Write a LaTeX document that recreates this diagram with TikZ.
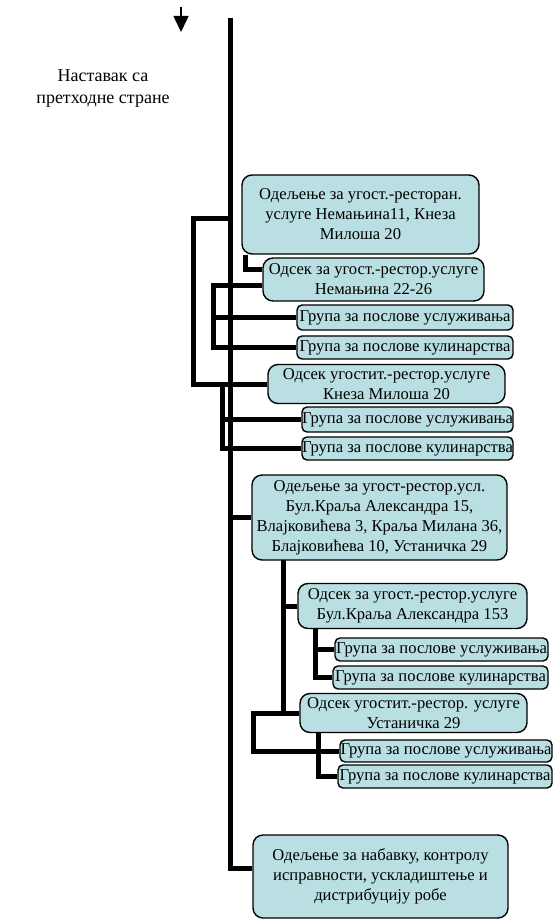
\documentclass[tikz,border=0pt]{standalone}
\usepackage{fontspec}
\setmainfont{Liberation Serif}
\usetikzlibrary{arrows.meta}
\definecolor{boxfill}{RGB}{185,223,227}
\tikzset{
  orgbox/.style={draw=black, line width=1.4pt, fill=boxfill, rounded corners=10pt,
    inner sep=0pt, align=center, font=\fontsize{16.6}{20}\selectfont},
  grpbox/.style={orgbox, rounded corners=5pt},
  conn/.style={line width=5pt, black, line join=miter},
}
\begin{document}
\begin{tikzpicture}[x=1pt,y=-1pt]
\useasboundingbox (0,0) rectangle (553,920);
% top arrow
\coordinate (arA) at (181,7);
\coordinate (arB) at (181,32);
\draw[line width=1.5pt, -{Triangle[width=15pt,length=16pt]}] (arA) -- (arB);
\node[align=center, font=\fontsize{18}{22}\selectfont] (cont) at (103,89) {Наставак са\\претходне стране};

% boxes
\node[orgbox, minimum width=237pt, minimum height=79pt] (box1) at (360.5,214.5)
  {Одељење за угост.-ресторан.\\услуге Немањина11, Кнеза\\Милоша 20};
\node[orgbox, minimum width=221pt, minimum height=43pt] (od1) at (373.5,279.5)
  {Одсек за угост.-рестор.услуге\\Немањина 22-26};
\node[grpbox, minimum width=216pt, minimum height=25pt] (g1) at (405,317.5)
  {Група за послове услуживања};
\node[grpbox, minimum width=216pt, minimum height=23pt] (g2) at (405,347.5)
  {Група за послове кулинарства};
\node[orgbox, minimum width=237pt, minimum height=39pt] (odkm) at (386.5,384)
  {Одсек угостит.-рестор.услуге\\Кнеза Милоша 20};
\node[grpbox, minimum width=211pt, minimum height=25pt] (g3) at (407.5,419.5)
  {Група за послове услуживања};
\node[grpbox, minimum width=211pt, minimum height=23pt] (g4) at (407.5,448.5)
  {Група за послове кулинарства};
\node[orgbox, minimum width=255pt, minimum height=85pt] (box2) at (379.5,517.5)
  {Одељење за угост-рестор.усл.\\Бул.Краља Александра 15,\\Влајковићева 3, Краља Милана 36,\\Блајковићева 10, Устаничка 29};
\node[orgbox, minimum width=229pt, minimum height=45pt] (od3) at (412.5,606)
  {Одсек за угост.-рестор.услуге\\Бул.Краља Александра 153};
\node[grpbox, minimum width=213pt, minimum height=23pt] (g5) at (441.5,649.5)
  {Група за послове услуживања};
\node[grpbox, minimum width=215pt, minimum height=23pt] (g6) at (440.5,677.5)
  {Група за послове кулинарства};
\node[orgbox, minimum width=227pt, minimum height=39pt] (od4) at (413.5,713)
  {Одсек угостит.-рестор. услуге\\Устаничка 29};
\node[grpbox, minimum width=212pt, minimum height=22pt] (g7) at (446,751)
  {Група за послове услуживања};
\node[grpbox, minimum width=214pt, minimum height=23pt] (g8) at (445,776.5)
  {Група за послове кулинарства};
\node[orgbox, minimum width=255pt, minimum height=83pt] (last) at (380.5,876.5)
  {Одељење за набавку, контролу\\исправности, ускладиштење и\\дистрибуцију робе};

% connector coordinates
\coordinate (mtop) at (230,18);
\coordinate (la) at (193,218);
\coordinate (lb) at (213,285);
\coordinate (lc) at (222,386);
\coordinate (lh) at (245,269);
\coordinate (ld) at (283,560);
\coordinate (le) at (253,751);
\coordinate (lf) at (315,628);
\coordinate (lg) at (318,732);

% connectors
\draw[conn] (mtop) |- ([yshift=8.5pt]last.west);
\draw[conn] (box2.west -| mtop) -- (box2.west);
\draw[conn] (la -| mtop) -- (la) |- (odkm.west);
\draw[conn] (lh |- box1.south) -- (lh) -- (lh -| od1.west);
\draw[conn] (lb -| od1.west) -- (lb) |- (g2.west);
\draw[conn] (lb |- g1.west) -- (g1.west);
\draw[conn] (lc |- odkm.west) |- (g4.west);
\draw[conn] (lc |- g3.west) -- (g3.west);
\draw[conn] (ld) -- (ld |- od4.west);
\draw[conn] (ld |- od3.west) -- (od3.west);
\draw[conn] (od4.west) -| (le) -- (g7.west);
\draw[conn] (lf) |- (g6.west);
\draw[conn] (lf |- g5.west) -- (g5.west);
\draw[conn] (lg) |- (g8.west);
\end{tikzpicture}
\end{document}
